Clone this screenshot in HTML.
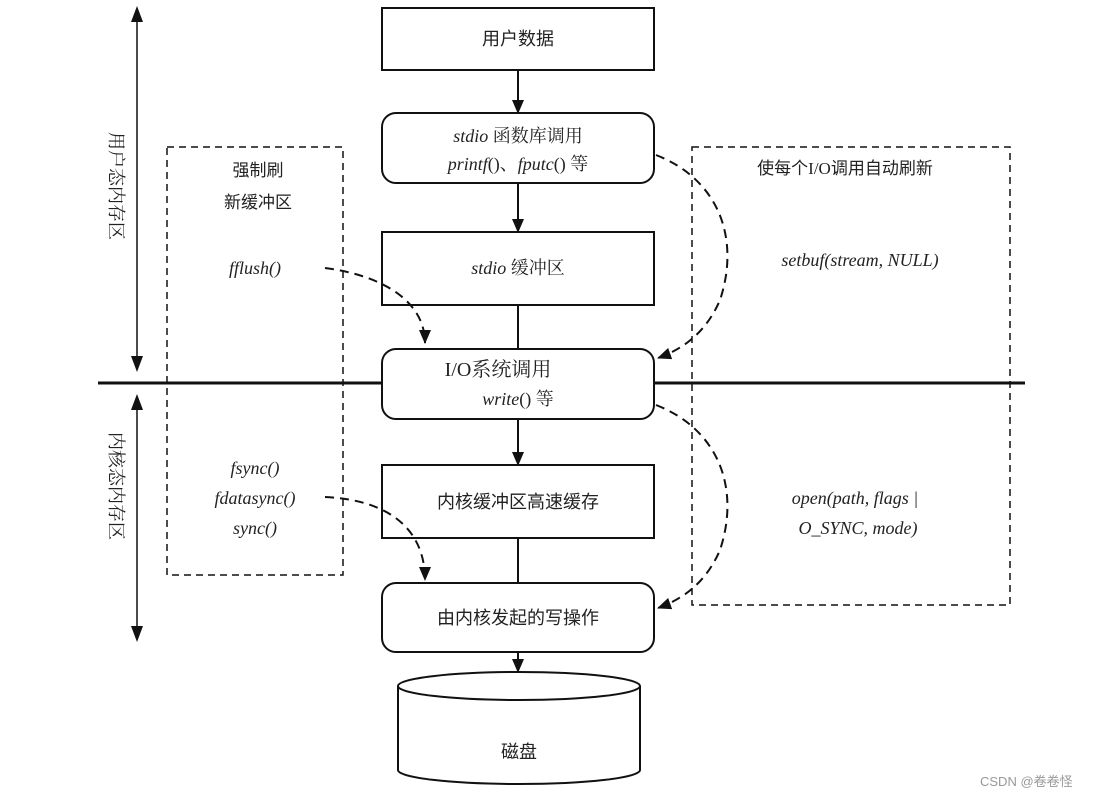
<!DOCTYPE html>
<html><head><meta charset="utf-8"><style>
body{margin:0;background:#fff;}
svg text{font-family:"Liberation Serif","Noto Serif CJK SC",serif;fill:#222;}
.cn{font-family:"Liberation Serif","Noto Sans CJK SC",sans-serif;}
</style></head><body>
<svg width="1096" height="799" viewBox="0 0 1096 799" xmlns="http://www.w3.org/2000/svg">
<defs>
<marker id="a" markerWidth="10" markerHeight="10" refX="9" refY="5" orient="auto" markerUnits="userSpaceOnUse"><path d="M0,0 L10,5 L0,10z" fill="#111"/></marker>
<marker id="b" markerWidth="14" markerHeight="12" refX="13" refY="6" orient="auto" markerUnits="userSpaceOnUse"><path d="M0,0 L14,6 L0,12z" fill="#111"/></marker>
</defs>
<g stroke="#111" fill="none" stroke-width="2">
<rect x="382" y="8" width="272" height="62"/>
<rect x="382" y="113" width="272" height="70" rx="14"/>
<rect x="382" y="232" width="272" height="73"/>
<rect x="382" y="349" width="272" height="70" rx="14"/>
<rect x="382" y="465" width="272" height="73"/>
<rect x="382" y="583" width="272" height="69" rx="14"/>
<path d="M398,686 L398,770 A121,14 0 0 0 640,770 L640,686"/>
<ellipse cx="519" cy="686" rx="121" ry="14"/>
<line x1="518" y1="70" x2="518" y2="113" marker-end="url(#b)"/>
<line x1="518" y1="183" x2="518" y2="232" marker-end="url(#b)"/>
<line x1="518" y1="305" x2="518" y2="349"/>
<line x1="518" y1="419" x2="518" y2="465" marker-end="url(#b)"/>
<line x1="518" y1="538" x2="518" y2="583"/>
<line x1="518" y1="652" x2="518" y2="672" marker-end="url(#b)"/>
<line x1="98" y1="383" x2="382" y2="383" stroke-width="3"/>
<line x1="654" y1="383" x2="1025" y2="383" stroke-width="3"/>
<line x1="137" y1="20" x2="137" y2="368" stroke-width="1.5"/>
<path d="M131,22 L137,6 L143,22z M131,356 L137,372 L143,356z" fill="#111" stroke="none"/>
<line x1="137" y1="408" x2="137" y2="628" stroke-width="1.5"/>
<path d="M131,410 L137,394 L143,410z M131,626 L137,642 L143,626z" fill="#111" stroke="none"/>
<g stroke-dasharray="7,5" stroke-width="1.5">
<rect x="167" y="147" width="176" height="428"/>
<rect x="692" y="147" width="318" height="458"/>
</g>
<g stroke-dasharray="9,6" stroke-width="2">
<path d="M325,268 C380,275 425,300 425,343" marker-end="url(#b)"/>
<path d="M325,497 C390,500 425,530 425,580" marker-end="url(#b)"/>
<path d="M656,155 C720,180 740,240 720,300 C705,335 680,350 658,358" marker-end="url(#b)"/>
<path d="M656,405 C720,430 740,490 720,550 C705,585 680,600 658,608" marker-end="url(#b)"/>
</g>
</g>
<g font-size="18" text-anchor="middle">
<text x="518" y="45" class="cn">用户数据</text>
<text x="518" y="142"><tspan font-style="italic">stdio</tspan> 函数库调用</text>
<text x="518" y="170"><tspan font-style="italic">printf</tspan>()、<tspan font-style="italic">fputc</tspan>() 等</text>
<text x="518" y="274"><tspan font-style="italic">stdio</tspan> 缓冲区</text>
<text x="498" y="376" font-size="20">I/O系统调用</text>
<text x="518" y="405"><tspan font-style="italic">write</tspan>() 等</text>
<text x="518" y="508" class="cn">内核缓冲区高速缓存</text>
<text x="518" y="624" class="cn">由内核发起的写操作</text>
<text x="519" y="758" class="cn">磁盘</text>
<text x="258" y="176" class="cn" font-size="17">强制刷</text>
<text x="258" y="208" class="cn" font-size="17">新缓冲区</text>
<text x="255" y="274" font-style="italic">fflush()</text>
<text x="255" y="474" font-style="italic">fsync()</text>
<text x="255" y="504" font-style="italic">fdatasync()</text>
<text x="255" y="534" font-style="italic">sync()</text>
<text x="845" y="174" class="cn" font-size="17">使每个I/O调用自动刷新</text>
<text x="860" y="266" font-style="italic">setbuf(stream, NULL)</text>
<text x="855" y="504" font-style="italic">open(path, flags |</text>
<text x="858" y="534" font-style="italic">O_SYNC, mode)</text>
</g>
<g font-size="18" class="cn">
<text x="110" y="132" transform="rotate(90 110 132)">用户态内存区</text>
<text x="110" y="432" transform="rotate(90 110 432)">内核态内存区</text>
</g>
<text x="980" y="786" font-size="13" fill="#999" style="font-family:'Liberation Sans','Noto Sans CJK SC',sans-serif;fill:#999">CSDN @卷卷怪</text>
</svg>
</body></html>
